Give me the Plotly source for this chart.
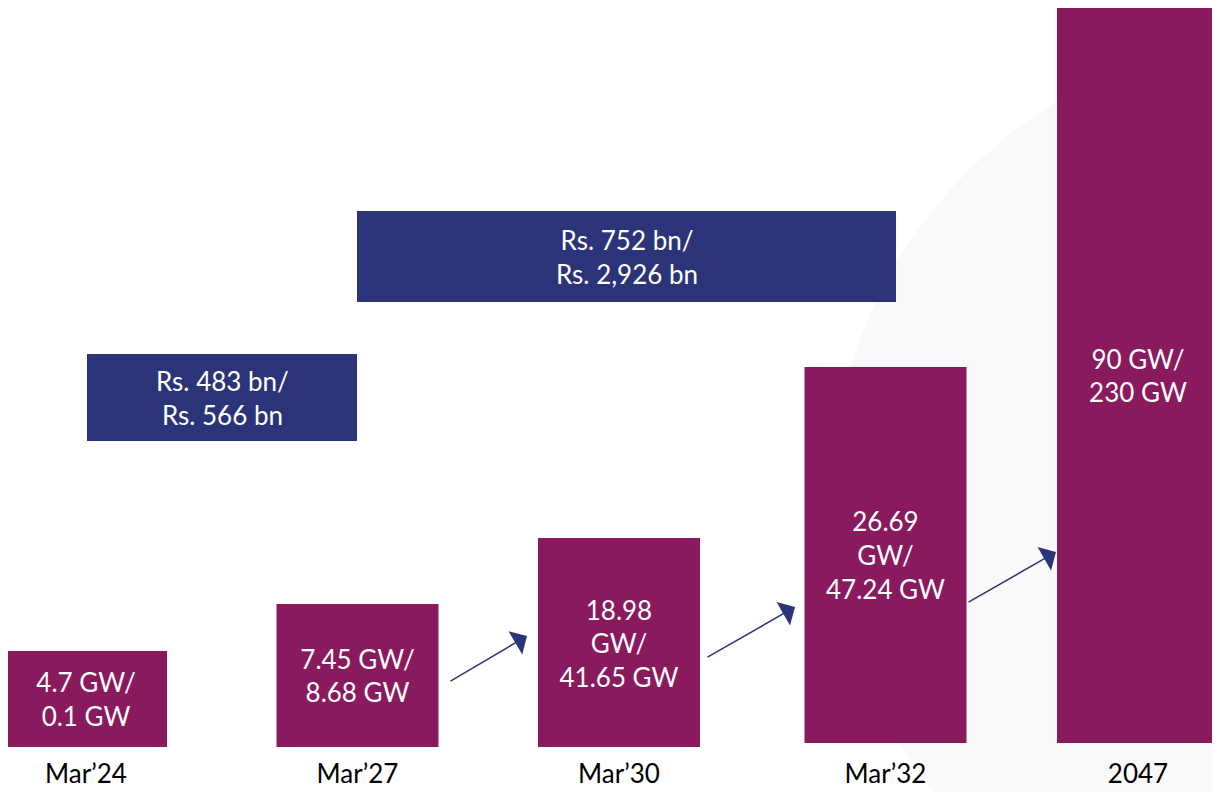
import plotly.graph_objects as go

# ---- data ----
categories = ["Mar’24", "Mar’27", "Mar’30", "Mar’32", "2047"]
bar_labels = ["4.7 GW/<br>0.1 GW", "7.45 GW/<br>8.68 GW", "18.98<br>GW/<br>41.65 GW",
              "26.69<br>GW/<br>47.24 GW", "90 GW/<br>230 GW"]
bar_heights = [96, 143, 211, 376, 735]       # illustrative bar heights (as drawn)
bar_bases = [0, 0, -2, 4, 4]
invest_labels = ["Rs. 483 bn/<br>Rs. 566 bn", "Rs. 752 bn/<br>Rs. 2,926 bn"]

# ---- layout constants (positions / styles) ----
OFF = 8                      # page body margin in the browser
W, H = 1220 - OFF, 792 - OFF
BASE_PY = 747                # baseline in screen pixels
PLOT_H = BASE_PY - OFF
BOTTOM = H - PLOT_H
x_pos = [86, 357.5, 619, 885.5, 1138]
bar_width = 162
PURPLE = "#8a1a5e"
NAVY = "#2b3478"
FONT = "Lato"

fig = go.Figure()
fig.add_trace(go.Bar(
    x=x_pos, y=bar_heights, base=bar_bases, width=bar_width,
    marker=dict(color=PURPLE, line=dict(width=0)),
    text=bar_labels, textposition="inside", insidetextanchor="middle",
    textangle=0, textfont=dict(color="white", size=26, family=FONT),
    cliponaxis=False, hoverinfo="skip",
))

# background circle (decorative)
cx, cy, r = 1297, 501, 466
fig.add_shape(type="circle", xref="paper", yref="paper",
              x0=(cx - r - OFF) / W, x1=(cx + r - OFF) / W,
              y0=(BASE_PY - (cy + r)) / PLOT_H, y1=(BASE_PY - (cy - r)) / PLOT_H,
              fillcolor="#f9f9f9", line=dict(width=0), layer="below")

# investment boxes spanning periods
boxes = [(87, 357, 306, 393), (357, 896, 445, 536)]
for (x0, x1, y0, y1), lab in zip(boxes, invest_labels):
    fig.add_shape(type="rect", xref="x", yref="y", x0=x0, x1=x1, y0=y0, y1=y1,
                  fillcolor=NAVY, line=dict(width=0), layer="above")
    fig.add_annotation(x=(x0 + x1) / 2, y=(y0 + y1) / 2, xref="x", yref="y",
                       text=lab, showarrow=False,
                       font=dict(color="white", size=26, family=FONT))

# arrows
arrows = [((449, 65), (527, 111)), ((706, 89), (795, 140)), ((967, 144), (1056, 195))]
for (sx, sy), (ex, ey) in arrows:
    fig.add_annotation(x=ex, y=ey, ax=sx, ay=sy, xref="x", yref="y", axref="x", ayref="y",
                       text="", showarrow=True, arrowhead=1, arrowsize=3,
                       arrowwidth=1.5, arrowcolor=NAVY)

fig.update_layout(
    width=W, height=H, autosize=False,
    margin=dict(l=0, r=0, t=0, b=BOTTOM, pad=0),
    paper_bgcolor="white", plot_bgcolor="rgba(0,0,0,0)",
    showlegend=False,
    xaxis=dict(range=[OFF, 1220], tickvals=x_pos, ticktext=categories, showgrid=False,
               zeroline=False, showline=False, ticks="", ticklabelstandoff=9,
               tickfont=dict(size=26, color="black", family=FONT), fixedrange=True),
    yaxis=dict(range=[0, PLOT_H], visible=False, fixedrange=True),
)

fig.write_html("out.html")
